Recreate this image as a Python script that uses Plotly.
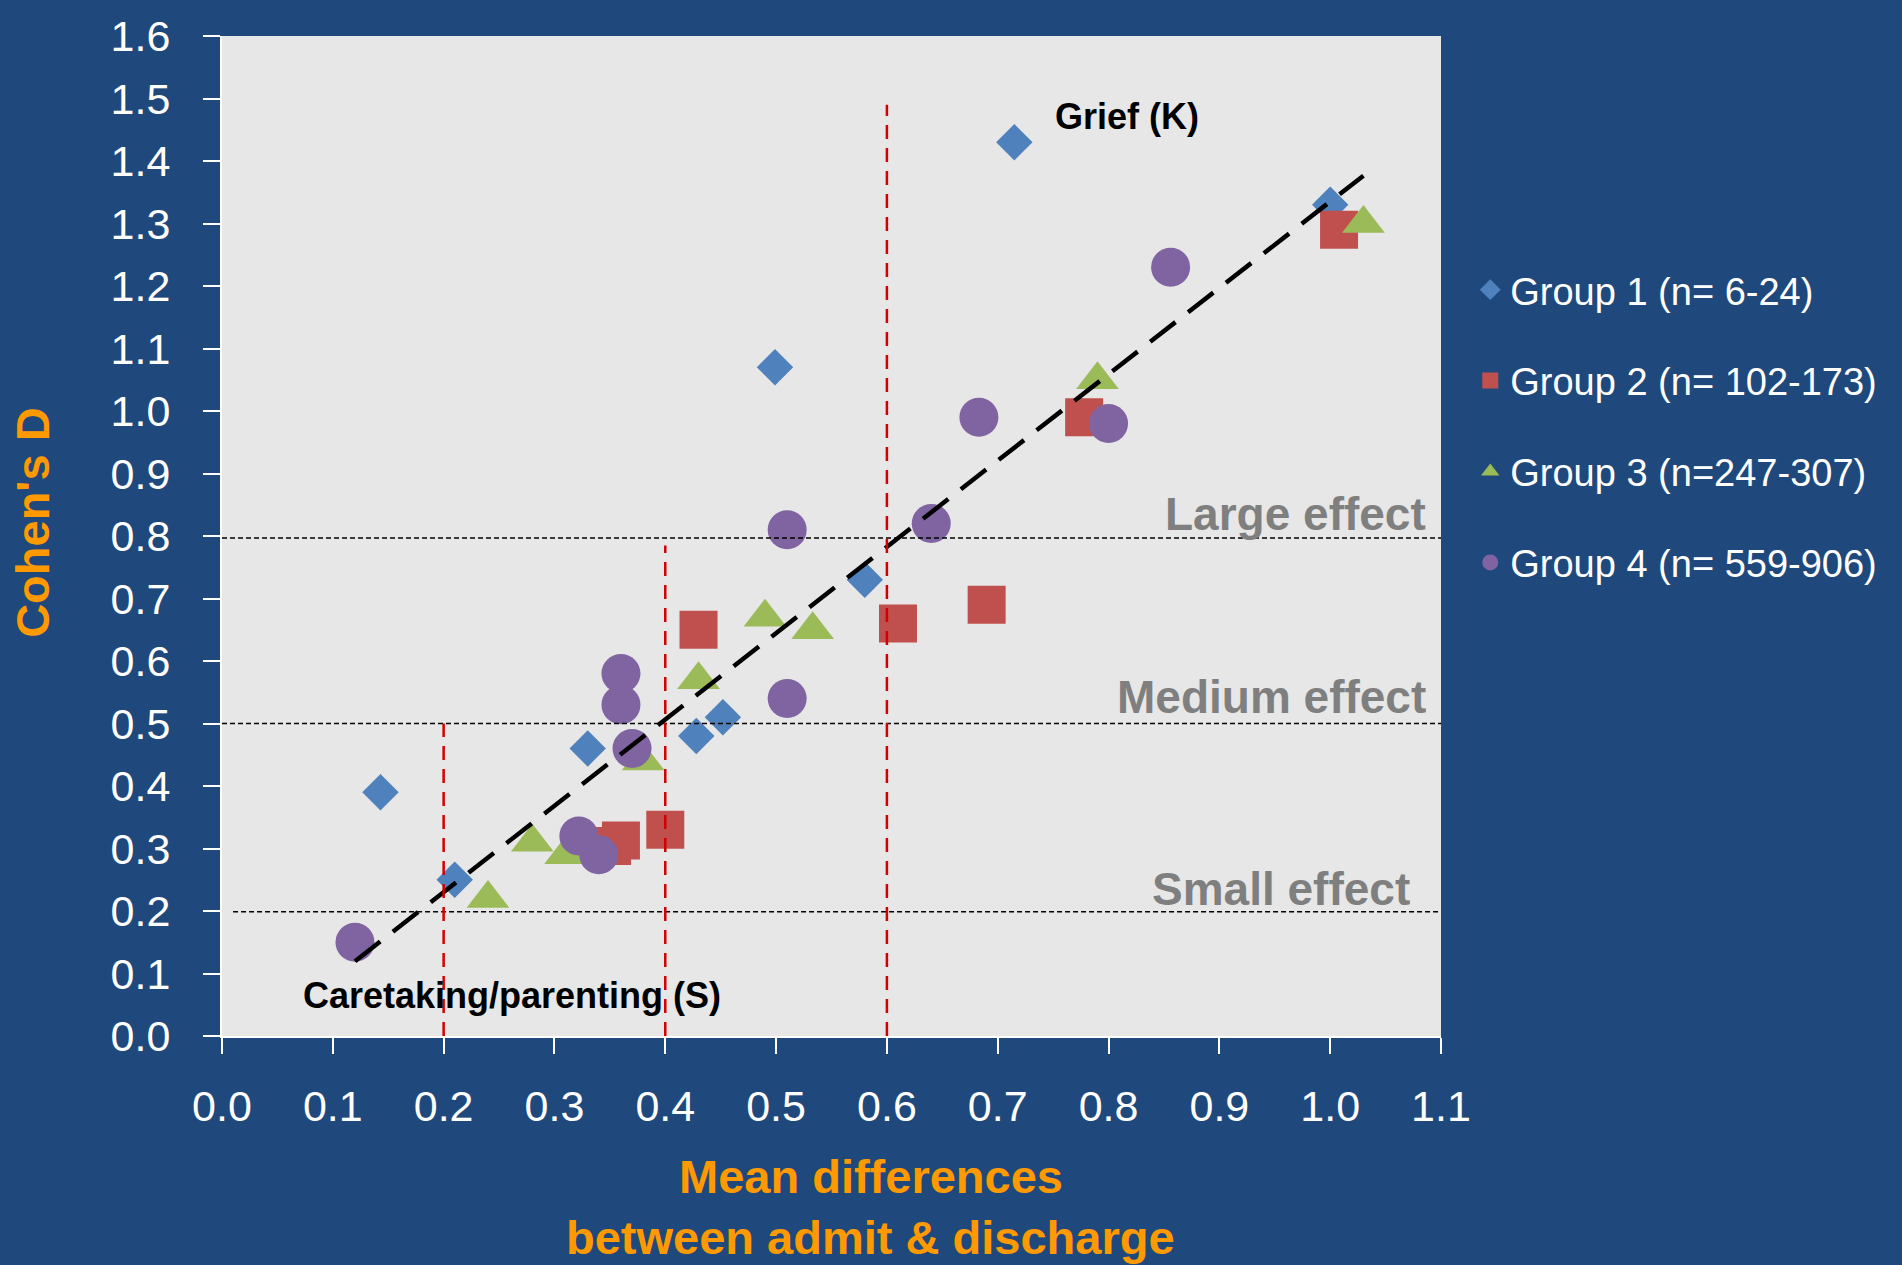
import plotly.graph_objects as go

# ---------------- data ----------------
g1_x = [0.143, 0.21, 0.33, 0.428, 0.452, 0.499, 0.58, 0.715, 1.0]
g1_y = [0.39, 0.25, 0.46, 0.48, 0.51, 1.07, 0.73, 1.43, 1.33]

g2_x = [0.43, 0.61, 0.69, 0.40, 0.352, 0.36, 0.778, 1.008]
g2_y = [0.65, 0.66, 0.69, 0.33, 0.304, 0.313, 0.99, 1.29]

g3_x = [0.24, 0.28, 0.31, 0.38, 0.43, 0.49, 0.533, 0.79, 1.03]
g3_y = [0.22, 0.31, 0.29, 0.44, 0.57, 0.67, 0.65, 1.05, 1.30]

g4_x = [0.12, 0.322, 0.34, 0.36, 0.36, 0.37, 0.51, 0.51, 0.64, 0.683, 0.80, 0.856]
g4_y = [0.15, 0.32, 0.29, 0.58, 0.53, 0.46, 0.81, 0.54, 0.82, 0.99, 0.98, 1.23]

group_names = ["Group 1 (n= 6-24)", "Group 2 (n= 102-173)",
               "Group 3 (n=247-307)", "Group 4 (n= 559-906)"]

trend_x = [0.12, 1.03]
trend_slope = 1.381
trend_intercept = -0.046

effect_levels = [0.797, 0.5, 0.199]
effect_labels = ["Large effect", "Medium effect", "Small effect"]
effect_line_start = [0.0, 0.0, 0.01]

cut_x = [0.2, 0.4, 0.6]
cut_top = [0.5, 0.785, 1.49]

x_ticks = [round(i * 0.1, 1) for i in range(12)]
y_ticks = [round(i * 0.1, 1) for i in range(17)]

# ---------------- styling ----------------
NAVY = "#1F497D"
PLOT_BG = "#E7E7E7"
ORANGE = "#FF9900"
SANS = "Liberation Sans, Arial, sans-serif"
BOLD = "Liberation Sans, Arial, sans-serif"

fig = go.Figure()

styles = [
    dict(symbol="diamond", color="#4F81BD", size=28),
    dict(symbol="square", color="#C0504D", size=38),
    dict(symbol="triangle-up", color="#9BBB59", size=37),
    dict(symbol="circle", color="#8064A2", size=39),
]
series = [(g1_x, g1_y), (g2_x, g2_y), (g3_x, g3_y), (g4_x, g4_y)]

for i, ((xs, ys), st, name) in enumerate(zip(series, styles, group_names)):
    fig.add_trace(go.Scatter(
        x=xs, y=ys, mode="markers", name=name, legendgroup=f"g{i}",
        marker=dict(symbol=st["symbol"], color=st["color"], size=st["size"],
                    line=dict(width=0)),
    ))

trend_y = [trend_slope * v + trend_intercept for v in trend_x]
fig.add_trace(go.Scatter(
    x=trend_x, y=trend_y, mode="lines", showlegend=False, hoverinfo="skip",
    line=dict(color="black", width=4.5, dash="32px,16px"),
))

shapes = []
for lvl, x0 in zip(effect_levels, effect_line_start):
    shapes.append(dict(type="line", xref="x", yref="y", x0=x0, x1=1.1, y0=lvl, y1=lvl,
                       line=dict(color="black", width=1.5, dash="5px,3px"), layer="above"))
for cx, top in zip(cut_x, cut_top):
    shapes.append(dict(type="line", xref="x", yref="y", x0=cx, x1=cx, y0=0, y1=top,
                       line=dict(color="#D40000", width=2.5, dash="14px,9px"), layer="above"))

annotations = []
label_pos = [(1.088, 0.836, "right"), (1.088, 0.542, "right"), (1.074, 0.235, "right")]
for (ax, ay, anc), txt in zip(label_pos, effect_labels):
    annotations.append(dict(x=ax, y=ay, xref="x", yref="y", text=f"<b>{txt}</b>",
                            showarrow=False, xanchor=anc, yanchor="middle",
                            font=dict(family=BOLD, size=46, color="#7F7F7F")))
annotations.append(dict(x=0.75, y=1.472, xref="x", yref="y", text="<b>Grief (K)</b>",
                        showarrow=False, xanchor="left", yanchor="middle",
                        font=dict(family=BOLD, size=36, color="black")))
annotations.append(dict(x=0.0713, y=0.065, xref="x", yref="y",
                        text="<b>Caretaking/parenting (S)</b>",
                        showarrow=False, xanchor="left", yanchor="middle",
                        font=dict(family=BOLD, size=36, color="black")))
# axis titles
annotations.append(dict(x=-0.156, y=0.514, xref="paper", yref="paper",
                        text="<b>Cohen's D</b>", textangle=-90, showarrow=False,
                        xanchor="center", yanchor="middle",
                        font=dict(family=BOLD, size=47, color=ORANGE)))
annotations.append(dict(x=0.532, y=-0.140, xref="paper", yref="paper",
                        text="<b>Mean differences</b>", showarrow=False,
                        xanchor="center", yanchor="middle",
                        font=dict(family=BOLD, size=47, color=ORANGE)))
annotations.append(dict(x=0.532, y=-0.2015, xref="paper", yref="paper",
                        text="<b>between admit &amp; discharge</b>", showarrow=False,
                        xanchor="center", yanchor="middle",
                        font=dict(family=BOLD, size=47, color=ORANGE)))

fig.update_layout(
    width=1902, height=1265,
    margin=dict(l=222, r=461, t=28, b=229),
    paper_bgcolor=NAVY, plot_bgcolor=PLOT_BG,
    shapes=shapes, annotations=annotations,
    showlegend=True,
    legend=dict(x=1.024, y=0.7775, xanchor="left", yanchor="top",
                bgcolor="rgba(0,0,0,0)", font=dict(family=SANS, size=38, color="white"),
                tracegroupgap=38.5, traceorder="grouped", itemsizing="trace"),
    xaxis=dict(range=[0, 1.1], tickvals=x_ticks, ticktext=[f"{v:.1f}" for v in x_ticks],
               showgrid=False, zeroline=False, showline=True, linecolor="white",
               linewidth=2, ticks="outside", ticklen=16, tickwidth=2, tickcolor="white",
               tickfont=dict(family=SANS, size=43, color="white"),
               ticklabelstandoff=15),
    yaxis=dict(range=[0, 1.6], tickvals=y_ticks, ticktext=[f"{v:.1f}" for v in y_ticks],
               showgrid=False, zeroline=False, showline=True, linecolor="white",
               linewidth=2, ticks="outside", ticklen=17, tickwidth=2, tickcolor="white",
               tickfont=dict(family=SANS, size=43, color="white"),
               ticklabelstandoff=24),
)

fig.write_html("out.html", config={"displayModeBar": False},
               post_script="document.body.style.margin='0';document.body.style.overflow='hidden';")
